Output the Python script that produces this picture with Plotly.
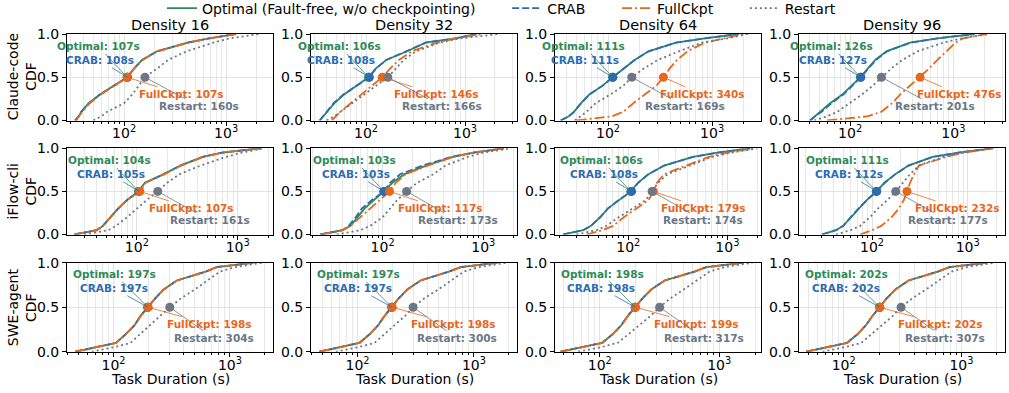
import math
import plotly.graph_objects as go
from plotly.subplots import make_subplots

# ---------------- data ----------------
CDF_LEVELS = [0, 0.05, 0.1, 0.2, 0.3, 0.4, 0.5, 0.6, 0.7, 0.8, 0.9, 0.95, 1.0]
DENSITIES = ["Density 16", "Density 32", "Density 64", "Density 96"]
AGENTS = ["Claude-code", "iFlow-cli", "SWE-agent"]
SERIES = ["Optimal", "CRAB", "FullCkpt", "Restart"]
LEGEND_NAMES = ["Optimal (Fault-free, w/o checkpointing)", "CRAB", "FullCkpt", "Restart"]

# task duration (s) at each CDF level
claude_d16_optimal = [33, 36, 38, 45, 58, 78, 107, 125, 150, 210, 420, 680, 1250]
claude_d16_crab = [33, 36, 38, 45, 58, 78, 108, 125, 150, 210, 420, 680, 1250]
claude_d16_fullckpt = [34, 36, 39, 46, 59, 79, 107, 125, 152, 212, 425, 690, 1250]
claude_d16_restart = [50, 60, 68, 100, 120, 140, 160, 210, 270, 410, 750, 1100, 2100]

claude_d32_optimal = [34, 37, 40, 48, 60, 80, 106, 125, 160, 260, 400, 800, 1300]
claude_d32_crab = [34, 37, 40, 47, 59, 79, 108, 126, 160, 255, 400, 800, 1300]
claude_d32_fullckpt = [45, 50, 55, 70, 90, 115, 146, 175, 215, 290, 520, 800, 1500]
claude_d32_restart = [40, 48, 55, 72, 95, 125, 166, 200, 240, 320, 550, 900, 2200]

claude_d64_optimal = [35, 42, 47, 55, 66, 88, 111, 140, 180, 245, 450, 850, 1800]
claude_d64_crab = [35, 42, 47, 55, 66, 88, 111, 140, 180, 245, 450, 850, 1800]
claude_d64_fullckpt = [50, 110, 140, 175, 225, 290, 340, 390, 460, 580, 850, 1300, 2000]
claude_d64_restart = [48, 55, 62, 76, 105, 140, 169, 220, 300, 480, 800, 1400, 2200]

claude_d96_optimal = [41, 46, 52, 64, 84, 103, 126, 148, 175, 225, 380, 700, 1600]
claude_d96_crab = [41, 46, 53, 66, 86, 105, 127, 150, 178, 228, 385, 700, 1600]
claude_d96_fullckpt = [60, 150, 200, 255, 305, 380, 476, 580, 700, 850, 1050, 1250, 2100]
claude_d96_restart = [45, 60, 75, 100, 130, 165, 201, 250, 320, 450, 800, 1200, 2200]

iflow_d16_optimal = [24, 40, 46, 55, 65, 80, 104, 120, 185, 270, 450, 700, 1700]
iflow_d16_crab = [24, 40, 46, 55, 65, 80, 105, 121, 185, 270, 450, 700, 1700]
iflow_d16_fullckpt = [24, 40, 46, 55, 65, 80, 107, 122, 188, 275, 455, 700, 1700]
iflow_d16_restart = [30, 52, 62, 80, 100, 125, 161, 200, 265, 430, 760, 1100, 1800]

iflow_d32_optimal = [24, 40, 48, 56, 66, 82, 103, 125, 165, 270, 500, 800, 1600]
iflow_d32_crab = [24, 40, 46, 54, 62, 78, 103, 118, 150, 250, 480, 800, 1600]
iflow_d32_fullckpt = [25, 40, 48, 60, 75, 95, 117, 135, 170, 280, 500, 800, 1600]
iflow_d32_restart = [35, 60, 75, 100, 118, 140, 173, 220, 320, 420, 700, 1000, 1900]

iflow_d64_optimal = [22, 35, 42, 52, 62, 80, 106, 125, 160, 230, 450, 800, 1700]
iflow_d64_crab = [22, 35, 42, 52, 62, 80, 108, 126, 160, 230, 450, 800, 1700]
iflow_d64_fullckpt = [38, 55, 70, 90, 120, 160, 179, 195, 230, 380, 650, 1000, 1900]
iflow_d64_restart = [30, 48, 60, 80, 110, 150, 174, 200, 250, 420, 700, 1100, 2000]

iflow_d96_optimal = [30, 42, 50, 60, 72, 88, 111, 135, 175, 240, 430, 800, 1800]
iflow_d96_crab = [30, 42, 50, 60, 72, 89, 112, 136, 176, 241, 430, 800, 1800]
iflow_d96_fullckpt = [75, 100, 125, 160, 190, 215, 232, 250, 275, 310, 600, 900, 1800]
iflow_d96_restart = [42, 60, 75, 95, 115, 145, 177, 210, 250, 310, 550, 900, 1900]

swe_d16_optimal = [47, 72, 105, 128, 152, 170, 197, 228, 270, 350, 620, 770, 1600]
swe_d16_crab = [47, 72, 105, 128, 152, 170, 197, 228, 270, 350, 620, 770, 1600]
swe_d16_fullckpt = [47, 72, 105, 128, 152, 171, 198, 228, 270, 350, 620, 770, 1600]
swe_d16_restart = [65, 100, 140, 170, 210, 255, 304, 380, 500, 640, 820, 1100, 1900]

swe_d32_optimal = [47, 70, 104, 128, 151, 170, 197, 226, 268, 348, 610, 770, 1600]
swe_d32_crab = [47, 70, 104, 128, 151, 170, 197, 226, 268, 348, 610, 770, 1600]
swe_d32_fullckpt = [47, 70, 104, 128, 151, 171, 198, 226, 268, 348, 610, 770, 1600]
swe_d32_restart = [65, 100, 140, 170, 210, 255, 300, 375, 495, 640, 820, 1100, 1900]

swe_d64_optimal = [47, 71, 105, 129, 152, 171, 198, 228, 270, 350, 620, 780, 1600]
swe_d64_crab = [47, 71, 105, 129, 152, 171, 198, 228, 270, 350, 620, 780, 1600]
swe_d64_fullckpt = [47, 71, 105, 129, 152, 172, 199, 228, 270, 350, 620, 780, 1600]
swe_d64_restart = [66, 102, 142, 175, 218, 265, 317, 390, 505, 650, 830, 1100, 1900]

swe_d96_optimal = [48, 72, 107, 132, 155, 175, 202, 232, 275, 355, 630, 790, 1650]
swe_d96_crab = [48, 72, 107, 132, 155, 175, 202, 232, 275, 355, 630, 790, 1650]
swe_d96_fullckpt = [48, 72, 107, 132, 155, 175, 202, 232, 275, 355, 630, 790, 1650]
swe_d96_restart = [66, 101, 141, 172, 213, 260, 307, 383, 500, 645, 825, 1100, 1900]

# medians shown in the labels
claude_medians = {"Optimal": [107, 106, 111, 126], "CRAB": [108, 108, 111, 127],
                  "FullCkpt": [107, 146, 340, 476], "Restart": [160, 166, 169, 201]}
iflow_medians = {"Optimal": [104, 103, 106, 111], "CRAB": [105, 103, 108, 112],
                 "FullCkpt": [107, 117, 179, 232], "Restart": [161, 173, 174, 177]}
swe_medians = {"Optimal": [197, 197, 198, 202], "CRAB": [197, 197, 198, 202],
               "FullCkpt": [198, 198, 199, 202], "Restart": [304, 300, 317, 307]}

X_TICK_VALUES = [100, 1000]
X_TICK_LABELS = ["10<sup>2</sup>", "10<sup>3</sup>"]
Y_TICK_VALUES = [0, 0.5, 1.0]
Y_TICK_LABELS = ["0.0", "0.5", "1.0"]

# ---------------- assemble ----------------
curves = [
    [[claude_d16_optimal, claude_d16_crab, claude_d16_fullckpt, claude_d16_restart],
     [claude_d32_optimal, claude_d32_crab, claude_d32_fullckpt, claude_d32_restart],
     [claude_d64_optimal, claude_d64_crab, claude_d64_fullckpt, claude_d64_restart],
     [claude_d96_optimal, claude_d96_crab, claude_d96_fullckpt, claude_d96_restart]],
    [[iflow_d16_optimal, iflow_d16_crab, iflow_d16_fullckpt, iflow_d16_restart],
     [iflow_d32_optimal, iflow_d32_crab, iflow_d32_fullckpt, iflow_d32_restart],
     [iflow_d64_optimal, iflow_d64_crab, iflow_d64_fullckpt, iflow_d64_restart],
     [iflow_d96_optimal, iflow_d96_crab, iflow_d96_fullckpt, iflow_d96_restart]],
    [[swe_d16_optimal, swe_d16_crab, swe_d16_fullckpt, swe_d16_restart],
     [swe_d32_optimal, swe_d32_crab, swe_d32_fullckpt, swe_d32_restart],
     [swe_d64_optimal, swe_d64_crab, swe_d64_fullckpt, swe_d64_restart],
     [swe_d96_optimal, swe_d96_crab, swe_d96_fullckpt, swe_d96_restart]],
]
medians = [claude_medians, iflow_medians, swe_medians]

# ---------------- styling ----------------
W, H = 1009, 393
FONT = "DejaVu Sans"
COLORS = {"Optimal": "#2e8b57", "CRAB": "#2b6cb3", "FullCkpt": "#e8671c", "Restart": "#6b7785"}
DASHES = {"Optimal": "solid", "CRAB": "7px,3px", "FullCkpt": "10px,3px,2px,3px", "Restart": "2px,3px"}
LINE_W = 1.8
NBSP = "\u00a0"
LEGEND_PAD = NBSP * 6

COL_PX = [(67, 273), (311, 517), (555, 761), (799, 1005)]
ROW_PX = [(34, 120.5), (148.3, 234.5), (262.7, 351.7)]
X_RANGES = [
    [(1.44, 3.46), (1.444, 3.525), (1.49, 3.47), (1.505, 3.50)],
    [(1.307, 3.35), (1.288, 3.335), (1.26, 3.34), (1.237, 3.39)],
    [(1.60, 3.37), (1.60, 3.37), (1.625, 3.35), (1.62, 3.37)],
]
# label offsets (pixels) relative to each median marker
OFF_OPT = [(-29, -31), (-29, -31), (-33, -33)]
OFF_CRAB = [(-28, -17), (-28, -17), (-34, -19)]
OFF_FULL = [
    [(54, 17), (54, 17), (39, 17), (39, 17)],
    [(52, 17), (51, 17), (50, 17), (51, 17)],
    [(61, 17), (61, 17), (61, 17), (61, 17)],
]
OFF_REST = [
    [(54, 29), (54, 29), (53, 29), (54, 29)],
    [(52, 29), (51, 29), (51, 29), (52, 29)],
    [(44, 31), (44, 31), (44, 31), (44, 31)],
]

minor_vals = [m * 10 ** e for e in (1, 2, 3) for m in range(2, 10)]

fig = make_subplots(rows=3, cols=4)
annotations = []

for r in range(3):
    for c in range(4):
        idx = r * 4 + c + 1
        xa = "x" if idx == 1 else f"x{idx}"
        ya = "y" if idx == 1 else f"y{idx}"
        for s, name in enumerate(SERIES):
            label = LEGEND_NAMES[s] + (LEGEND_PAD if s < len(SERIES) - 1 else "")
            fig.add_trace(go.Scatter(
                x=curves[r][c][s], y=CDF_LEVELS, mode="lines",
                line=dict(color=COLORS[name], width=LINE_W, dash=DASHES[name]),
                name=label, legendgroup=name,
                showlegend=(r == 0 and c == 0), hoverinfo="skip"),
                row=r + 1, col=c + 1)
        for s, name in enumerate(SERIES):
            med = medians[r][name][c]
            fig.add_trace(go.Scatter(
                x=[med], y=[0.5], mode="markers",
                marker=dict(color=COLORS[name], size=9, line=dict(width=0)),
                showlegend=False, hoverinfo="skip"), row=r + 1, col=c + 1)
        offs = {"Optimal": OFF_OPT[r], "CRAB": OFF_CRAB[r],
                "FullCkpt": OFF_FULL[r][c], "Restart": OFF_REST[r][c]}
        for name in SERIES:
            med = medians[r][name][c]
            dx, dy = offs[name]
            annotations.append(dict(
                x=math.log10(med), y=0.5, xref=xa, yref=ya,
                text=f"<b>{name}: {med}s</b>", showarrow=True, arrowhead=0,
                arrowwidth=0.8, arrowcolor=COLORS[name], ax=dx, ay=dy,
                standoff=0, startstandoff=0,
                font=dict(family=FONT, size=10.5, color=COLORS[name])))

        x0, x1 = COL_PX[c]
        y0, y1 = ROW_PX[r]
        xkey = "xaxis" if idx == 1 else f"xaxis{idx}"
        ykey = "yaxis" if idx == 1 else f"yaxis{idx}"
        fig.layout[xkey].update(
            type="log", range=list(X_RANGES[r][c]), domain=[x0 / W, x1 / W],
            tickmode="array", tickvals=X_TICK_VALUES, ticktext=X_TICK_LABELS,
            ticks="outside", ticklen=4, tickwidth=0.8, tickcolor="black",
            ticklabelstandoff=-4,
            showline=True, linecolor="black", linewidth=1, mirror=True,
            showgrid=True, gridcolor="#e2e2e2", gridwidth=0.8, zeroline=False,
            automargin=False,
            tickfont=dict(family=FONT, size=14, color="black"),
            minor=dict(tickmode="array", tickvals=minor_vals, ticks="outside",
                       ticklen=2, tickwidth=0.6, tickcolor="black",
                       showgrid=True, gridcolor="#e8e8e8", gridwidth=0.7))
        fig.layout[ykey].update(
            range=[0, 1], domain=[1 - y1 / H, 1 - y0 / H],
            tickmode="array", tickvals=Y_TICK_VALUES, ticktext=Y_TICK_LABELS,
            ticks="outside", ticklen=4, tickwidth=0.8, tickcolor="black",
            showline=True, linecolor="black", linewidth=1, mirror=True,
            showgrid=True, gridcolor="#e2e2e2", gridwidth=0.8, zeroline=False,
            automargin=False,
            tickfont=dict(family=FONT, size=14, color="black"))

# column titles
for c, title in enumerate(DENSITIES):
    x0, x1 = COL_PX[c]
    annotations.append(dict(x=(x0 + x1) / 2 / W, y=1 - 25 / H, xref="paper", yref="paper",
                            text=title, showarrow=False, xanchor="center", yanchor="middle",
                            font=dict(family=FONT, size=14.5, color="black")))
# row labels
for r, agent in enumerate(AGENTS):
    y0, y1 = ROW_PX[r]
    annotations.append(dict(x=22 / W, y=1 - (y0 + y1) / 2 / H, xref="paper", yref="paper",
                            text=f"{agent}<br>CDF", showarrow=False, textangle=-90,
                            xanchor="center", yanchor="middle",
                            font=dict(family=FONT, size=14, color="black")))
# x axis titles
for c in range(4):
    x0, x1 = COL_PX[c]
    annotations.append(dict(x=(x0 + x1) / 2 / W, y=1 - 379 / H, xref="paper", yref="paper",
                            text="Task Duration (s)", showarrow=False,
                            xanchor="center", yanchor="middle",
                            font=dict(family=FONT, size=14, color="black")))

fig.update_layout(
    width=W, height=H, autosize=False,
    margin=dict(l=0, r=0, t=0, b=0, autoexpand=False),
    paper_bgcolor="white", plot_bgcolor="white",
    font=dict(family=FONT, size=14, color="black"),
    annotations=annotations,
    showlegend=True,
    legend=dict(orientation="h", x=0.497, xanchor="center", y=1 - 8.5 / H, yanchor="middle",
                font=dict(family=FONT, size=14, color="black"),
                bgcolor="rgba(0,0,0,0)", borderwidth=0, itemwidth=30,
                tracegroupgap=0),
)

fig.write_html("out.html")
